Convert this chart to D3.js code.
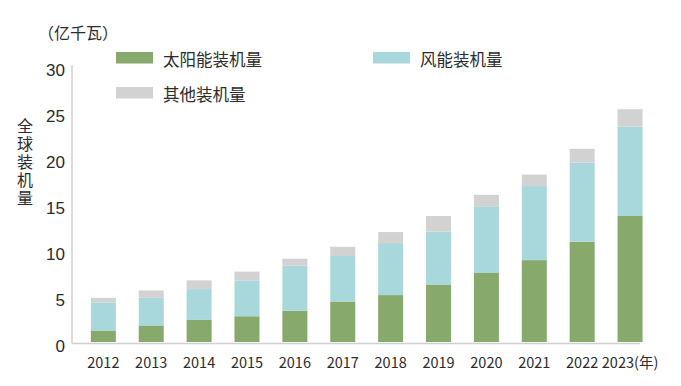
<!DOCTYPE html>
<html>
<head>
<meta charset="utf-8">
<script src="https://cdn.jsdelivr.net/npm/d3@7"></script>
<style>
  body { margin: 0; background: #fff; }
  text { font-family: "Liberation Sans", "Noto Sans CJK SC", sans-serif; fill: #2b2b2b; }
  .cjk { font-family: "Noto Sans CJK SC", sans-serif; }
</style>
</head>
<body>
<div id="chart"></div>
<script>
const width = 681;
const height = 386;

const years = ["2012", "2013", "2014", "2015", "2016", "2017", "2018", "2019", "2020", "2021", "2022", "2023"];
const solar = [1.25, 1.8, 2.4, 2.8, 3.4, 4.4, 5.1, 6.25, 7.5, 8.9, 10.9, 13.7];
const wind  = [3.05, 3.0, 3.35, 3.9, 4.9, 4.95, 5.65, 5.75, 7.25, 8.05, 8.6, 9.7];
const other = [0.5, 0.8, 0.95, 0.95, 0.75, 1.0, 1.2, 1.7, 1.25, 1.25, 1.5, 1.9];
const yTicks = [0, 5, 10, 15, 20, 25, 30];
const seriesNames = ["太阳能装机量", "风能装机量", "其他装机量"];
const colors = ["#87a96b", "#a8d7dc", "#d2d2d2"];

const svg = d3.select("#chart")
  .append("svg")
  .attr("width", width)
  .attr("height", height);

const x = d3.scaleBand()
  .domain(years)
  .range([79.4, 654])
  .paddingInner(0.478)
  .paddingOuter(0.239);

const y = d3.scaleLinear()
  .domain([0, 30])
  .range([342, 66]);

// stacked data
const rows = years.map((yr, i) => ({ year: yr, solar: solar[i], wind: wind[i], other: other[i] }));
const stack = d3.stack().keys(["solar", "wind", "other"])(rows);

svg.append("g")
  .selectAll("g")
  .data(stack)
  .enter()
  .append("g")
  .attr("fill", (d, i) => colors[i])
  .selectAll("rect")
  .data(d => d)
  .enter()
  .append("rect")
  .attr("x", d => x(d.data.year))
  .attr("width", x.bandwidth())
  .attr("y", d => y(d[1]))
  .attr("height", d => y(d[0]) - y(d[1]));

// axes lines
svg.append("line")
  .attr("x1", 72).attr("x2", 72)
  .attr("y1", 65).attr("y2", 343.5)
  .attr("stroke", "#d0d0d0").attr("stroke-width", 1.5);
svg.append("line")
  .attr("x1", 72).attr("x2", 640)
  .attr("y1", 343.5).attr("y2", 343.5)
  .attr("stroke", "#d0d0d0").attr("stroke-width", 1.5);

// y tick labels
svg.append("g")
  .selectAll("text")
  .data(yTicks)
  .enter()
  .append("text")
  .attr("x", 65)
  .attr("y", d => y(d) + 10)
  .attr("text-anchor", "end")
  .style("font-size", "17px")
  .text(d => d);

// x tick labels
svg.append("g")
  .selectAll("text")
  .data(years)
  .enter()
  .append("text")
  .attr("x", d => x(d) + x.bandwidth() / 2)
  .attr("y", 368)
  .attr("text-anchor", "middle")
  .style("font-family", "'Liberation Sans Narrow', 'Noto Sans CJK SC', sans-serif")
  .style("font-size", "14.5px")
  .text((d, i) => i === years.length - 1 ? d + "(年)" : d);

// unit label
svg.append("text")
  .attr("class", "cjk")
  .attr("x", 38)
  .attr("y", 39)
  .style("font-size", "16px")
  .text("（亿千瓦）");

// vertical y label
svg.append("text")
  .attr("class", "cjk")
  .attr("x", 25)
  .attr("y", 118)
  .attr("writing-mode", "vertical-rl")
  .style("font-size", "16px")
  .style("letter-spacing", "2px")
  .text("全球装机量");

// legend
const legendPos = [[116, 52], [373, 52], [116, 87]];
const legend = svg.append("g")
  .selectAll("g")
  .data(seriesNames)
  .enter()
  .append("g")
  .attr("transform", (d, i) => `translate(${legendPos[i][0]},${legendPos[i][1]})`);
legend.append("rect")
  .attr("width", 37)
  .attr("height", 11.5)
  .attr("fill", (d, i) => colors[i]);
legend.append("text")
  .attr("class", "cjk")
  .attr("x", 47)
  .attr("y", 14)
  .style("font-size", "16.5px")
  .text(d => d);
</script>
</body>
</html>
